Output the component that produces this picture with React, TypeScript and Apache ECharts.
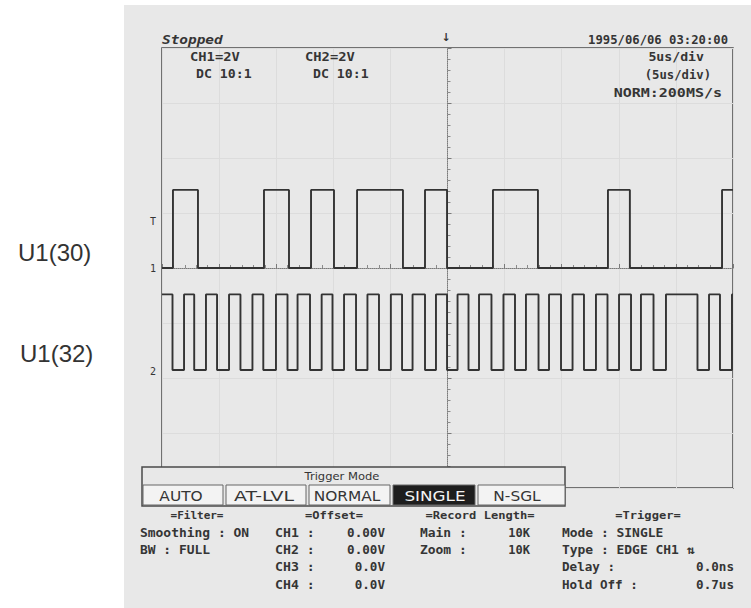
import { useEffect, useRef } from "react";
import * as echarts from "echarts";

// time axis: 5 µs/div, 10 divisions, trigger at centre (0 µs)
const timeRange = [-25, 25];
const timeStep = 5;
// vertical: 8 divisions, 2 V/div for both channels
const divRange = [-4, 4];
const voltsPerDiv = 2;

// CH1 (U1(30)) edge times in µs relative to trigger; trace starts low
const ch1Edges = [
  -24.04, -21.85, -16.07, -13.88, -11.95, -9.94, -7.92, -3.9, -1.97, -0.04,
  3.98, 7.92, 14.05, 15.97, 24.04,
];
const ch1StartsHigh = false;
const ch1Levels = [0, 2.84]; // low / high volts
const ch1PositionDiv = 0;

// CH2 (U1(32)) edge times in µs; trace starts high
const ch2Edges = [
  -24.08, -23.07, -22.18, -21.15, -20.18, -19.13, -18.13, -17.08, -16.13,
  -15.02, -14.01, -13.13, -12.04, -11.02, -10.07, -9.06, -8.01, -7.01, -6.0,
  -4.96, -3.98, -3.06, -1.97, -1.01, -0.04, 0.88, 1.84, 2.76, 3.85, 4.9, 5.91,
  6.87, 7.97, 8.89, 9.94, 10.95, 11.95, 13.0, 14.01, 15.02, 16.07, 16.94,
  18.04, 19.13, 21.89, 22.9, 23.86, 24.91,
];
const ch2StartsHigh = true;
const ch2Levels = [0.05, 2.8];
const ch2PositionDiv = -1.88;

const triggerLevelV = 1.68;

const sideLabels = ["U1(30)", "U1(32)"];
const headerLeft = ["CH1=2V", "DC 10:1", "CH2=2V", "DC 10:1"];
const headerRight = ["1995/06/06 03:20:00", "5us/div", "(5us/div)", "NORM:200MS/s"];
const triggerModes = ["AUTO", "AT-LVL", "NORMAL", "SINGLE", "N-SGL"];
const selectedMode = "SINGLE";
const filterRows = ["Smoothing : ON", "BW : FULL"];
const offsetNames = ["CH1 :", "CH2 :", "CH3 :", "CH4 :"];
const offsetValues = ["0.00V", "0.00V", "0.0V", "0.0V"];
const recordNames = ["Main :", "Zoom :"];
const recordValues = ["10K", "10K"];
const triggerRows = ["Mode : SINGLE", "Type : EDGE CH1 \u21C5"];
const triggerNames = ["Delay :", "Hold Off :"];
const triggerValues = ["0.0ns", "0.7us"];

function toSteps(edges: number[], startHigh: boolean, levels: number[], posDiv: number) {
  const toDiv = (v: number) => posDiv + v / voltsPerDiv;
  let high = startHigh;
  const pts: number[][] = [[timeRange[0], toDiv(levels[high ? 1 : 0])]];
  for (const t of edges) {
    pts.push([t, toDiv(levels[high ? 1 : 0])]);
    high = !high;
    pts.push([t, toDiv(levels[high ? 1 : 0])]);
  }
  pts.push([timeRange[1], toDiv(levels[high ? 1 : 0])]);
  return pts;
}

const BG = "#e8e8e8";
const INK = "#353535";
const MONO = '"DejaVu Sans Mono", monospace';
const SANS = '"DejaVu Sans", sans-serif';

function txt(text: string, x: number, y: number, o: any = {}) {
  const align = o.align || "left";
  const weight = o.bold === false ? "" : "bold ";
  return {
    type: "text",
    x,
    y,
    scaleX: o.sx ?? 1,
    z: o.z ?? 110,
    style: {
      text,
      fill: o.fill || INK,
      font: `${o.italic ? "italic " : ""}${weight}${o.size || 12}px ${o.family || MONO}`,
      align,
      textAlign: align,
      verticalAlign: "middle",
      textVerticalAlign: "middle",
    },
  };
}

export default function App() {
  const ref = useRef<HTMLDivElement>(null);

  useEffect(() => {
    if (!ref.current) return;
    const chart = echarts.init(ref.current, undefined, { renderer: "svg" });

    const graphic: any[] = [];
    // screen background (photo of the instrument display)
    graphic.push({
      type: "rect",
      z: -100,
      shape: { x: 124, y: 5, width: 627, height: 603 },
      style: { fill: BG },
    });
    // side labels
    const sideFont = '"Liberation Sans", Arial, sans-serif';
    graphic.push(txt(sideLabels[0], 18, 252, { size: 24, family: sideFont, fill: "#333", bold: false }));
    graphic.push(txt(sideLabels[1], 20, 353, { size: 24, family: sideFont, fill: "#333", bold: false }));

    // header
    graphic.push(txt("Stopped", 162, 40, { italic: true, size: 12, sx: 1.2 }));
    graphic.push(txt(headerLeft[0], 190, 57, { sx: 1.15 }));
    graphic.push(txt(headerLeft[1], 196, 74, { sx: 1.1 }));
    graphic.push(txt(headerLeft[2], 305, 57, { sx: 1.15 }));
    graphic.push(txt(headerLeft[3], 313, 74, { sx: 1.1 }));
    graphic.push(txt("\u2193", 446, 37, { size: 11, family: SANS, align: "center" }));
    graphic.push(txt(headerRight[0], 728, 40, { align: "right", sx: 1.02 }));
    graphic.push(txt(headerRight[1], 704, 57, { align: "right", sx: 1.1 }));
    graphic.push(txt(headerRight[2], 711, 75, { align: "right", sx: 1.02 }));
    graphic.push(txt(headerRight[3], 722, 93, { align: "right", sx: 1.25 }));

    // trigger-mode menu panel
    graphic.push({
      type: "rect",
      z: 100,
      shape: { x: 142, y: 467, width: 423, height: 39 },
      style: { fill: BG, stroke: "#4a4a4a", lineWidth: 1.5 },
    });
    graphic.push(txt("Trigger Mode", 342, 477, { size: 11, family: SANS, align: "center", bold: false, sx: 1.05 }));
    const btnX = [143, 226, 309, 393, 478, 565];
    const btnText = [181, 264, 347, 435, 517];
    const btnScale = [1.1, 1.35, 1.1, 1.2, 1.1];
    triggerModes.forEach((m, i) => {
      const sel = m === selectedMode;
      graphic.push({
        type: "rect",
        z: 105,
        shape: { x: btnX[i], y: 485, width: btnX[i + 1] - btnX[i] - (i < 4 ? 3 : 0), height: 20 },
        style: { fill: sel ? "#1e1e1e" : "#f3f3f3", stroke: "#666", lineWidth: 1 },
      });
      graphic.push(
        txt(m, btnText[i], 496, {
          size: 14,
          family: SANS,
          align: "center",
          bold: false,
          sx: btnScale[i],
          fill: sel ? "#f4f4f4" : INK,
        })
      );
    });

    // settings text
    const rowY = [533, 550, 567, 585];
    graphic.push(txt("=Filter=", 197, 515, { align: "center", size: 11 }));
    filterRows.forEach((r, i) => graphic.push(txt(r, 140, rowY[i], { sx: 1.08 })));
    graphic.push(txt("=Offset=", 334, 515, { align: "center", size: 11, sx: 1.1 }));
    offsetNames.forEach((r, i) => {
      graphic.push(txt(r, 275, rowY[i], { sx: 1.1 }));
      graphic.push(txt(offsetValues[i], 385, rowY[i], { align: "right", sx: 1.05 }));
    });
    graphic.push(txt("=Record Length=", 480, 515, { align: "center", size: 11, sx: 1.1 }));
    recordNames.forEach((r, i) => {
      graphic.push(txt(r, 420, rowY[i], { sx: 1.08 }));
      graphic.push(txt(recordValues[i], 530, rowY[i], { align: "right" }));
    });
    graphic.push(txt("=Trigger=", 648, 515, { align: "center", size: 11, sx: 1.1 }));
    triggerRows.forEach((r, i) => graphic.push(txt(r, 562, rowY[i], { sx: 1.08 })));
    triggerNames.forEach((r, i) => {
      graphic.push(txt(r, 562, rowY[i + 2], { sx: 1.05 }));
      graphic.push(txt(triggerValues[i], 734, rowY[i + 2], { align: "right", sx: 1.05 }));
    });

    const axisCommon = {
      type: "value",
      axisLabel: { show: false },
      axisLine: { show: true, onZero: true, lineStyle: { color: "#7a7a7a", type: "dotted", width: 1 } },
      axisTick: { show: true, inside: true, length: 4, lineStyle: { color: "#7a7a7a" } },
      minorTick: { show: true, splitNumber: 5, length: 3, lineStyle: { color: "#8a8a8a" } },
      splitLine: { show: true, lineStyle: { color: "#dcdcdc", width: 1 } },
    };

    const traceStyle = { color: "#333333", width: 1.9 };
    const markerLabel = { show: true, position: "start", distance: 6, color: INK, fontSize: 10, fontFamily: MONO };

    chart.setOption({
      animation: false,
      backgroundColor: "#ffffff",
      grid: {
        left: 162,
        top: 48,
        right: 18,
        bottom: 120,
        show: true,
        borderColor: "#4a4a4a",
        borderWidth: 1.5,
        backgroundColor: "transparent",
      },
      xAxis: { ...axisCommon, min: timeRange[0], max: timeRange[1], interval: timeStep },
      yAxis: { ...axisCommon, min: divRange[0], max: divRange[1], interval: 1 },
      series: [
        {
          name: "CH1",
          type: "line",
          data: toSteps(ch1Edges, ch1StartsHigh, ch1Levels, ch1PositionDiv),
          showSymbol: false,
          symbol: "none",
          lineStyle: traceStyle,
          z: 3,
          markLine: {
            silent: true,
            symbol: "none",
            lineStyle: { color: "transparent", width: 0 },
            label: markerLabel,
            data: [
              { yAxis: ch1PositionDiv + triggerLevelV / voltsPerDiv, label: { ...markerLabel, formatter: "T" } },
              { yAxis: ch1PositionDiv, label: { ...markerLabel, formatter: "1" } },
              { yAxis: ch2PositionDiv, label: { ...markerLabel, formatter: "2" } },
            ],
          },
        },
        {
          name: "CH2",
          type: "line",
          data: toSteps(ch2Edges, ch2StartsHigh, ch2Levels, ch2PositionDiv),
          showSymbol: false,
          symbol: "none",
          lineStyle: traceStyle,
          z: 3,
        },
      ],
      graphic,
    });

    return () => chart.dispose();
  }, []);

  return (
    <div
      ref={ref}
      style={{ position: "fixed", left: 0, top: 0, width: 751, height: 608, background: "#fff" }}
    />
  );
}
